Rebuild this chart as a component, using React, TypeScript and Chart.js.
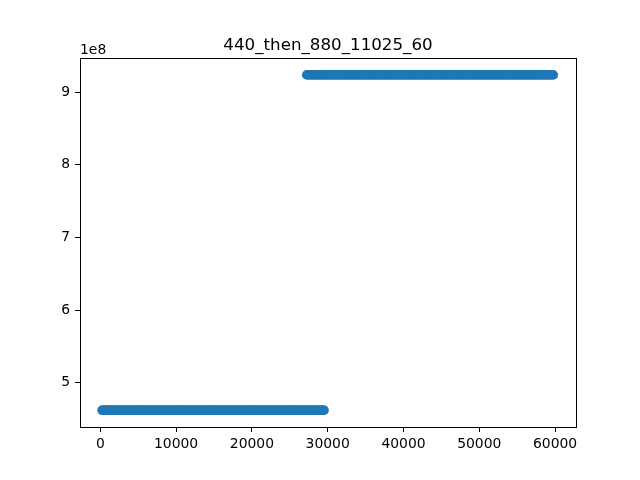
import { useEffect, useRef } from "react";
import { Chart, registerables } from "chart.js";

Chart.register(...registerables);

const TITLE = "440_then_880_11025_60";
const OFFSET_LABEL = "1e8";

// first tone, x positions read along the lower band
const LOW_X = [
  250, 500, 750, 1000, 1250, 1500, 1750, 2000, 2250, 2500,
  2750, 3000, 3250, 3500, 3750, 4000, 4250, 4500, 4750, 5000,
  5250, 5500, 5750, 6000, 6250, 6500, 6750, 7000, 7250, 7500,
  7750, 8000, 8250, 8500, 8750, 9000, 9250, 9500, 9750, 10000,
  10250, 10500, 10750, 11000, 11250, 11500, 11750, 12000, 12250, 12500,
  12750, 13000, 13250, 13500, 13750, 14000, 14250, 14500, 14750, 15000,
  15250, 15500, 15750, 16000, 16250, 16500, 16750, 17000, 17250, 17500,
  17750, 18000, 18250, 18500, 18750, 19000, 19250, 19500, 19750, 20000,
  20250, 20500, 20750, 21000, 21250, 21500, 21750, 22000, 22250, 22500,
  22750, 23000, 23250, 23500, 23750, 24000, 24250, 24500, 24750, 25000,
  25250, 25500, 25750, 26000, 26250, 26500, 26750, 27000, 27250, 27500,
  27750, 28000, 28250, 28500, 28750, 29000, 29250, 29500,
];
const LOW_Y = 4.62e8;

// second tone, x positions read along the upper band
const HIGH_X = [
  27250, 27500, 27750, 28000, 28250, 28500, 28750, 29000, 29250, 29500,
  29750, 30000, 30250, 30500, 30750, 31000, 31250, 31500, 31750, 32000,
  32250, 32500, 32750, 33000, 33250, 33500, 33750, 34000, 34250, 34500,
  34750, 35000, 35250, 35500, 35750, 36000, 36250, 36500, 36750, 37000,
  37250, 37500, 37750, 38000, 38250, 38500, 38750, 39000, 39250, 39500,
  39750, 40000, 40250, 40500, 40750, 41000, 41250, 41500, 41750, 42000,
  42250, 42500, 42750, 43000, 43250, 43500, 43750, 44000, 44250, 44500,
  44750, 45000, 45250, 45500, 45750, 46000, 46250, 46500, 46750, 47000,
  47250, 47500, 47750, 48000, 48250, 48500, 48750, 49000, 49250, 49500,
  49750, 50000, 50250, 50500, 50750, 51000, 51250, 51500, 51750, 52000,
  52250, 52500, 52750, 53000, 53250, 53500, 53750, 54000, 54250, 54500,
  54750, 55000, 55250, 55500, 55750, 56000, 56250, 56500, 56750, 57000,
  57250, 57500, 57750, 58000, 58250, 58500, 58750, 59000, 59250, 59500,
  59750,
];
const HIGH_Y = 9.24e8;

const X_TICKS = [0, 10000, 20000, 30000, 40000, 50000, 60000];
const Y_TICKS = [5e8, 6e8, 7e8, 8e8, 9e8];

const FONT = "'DejaVu Sans', sans-serif";
const BLUE = "#1f77b4";

const framePlugin = {
  id: "frame",
  afterDraw(chart: any) {
    const { ctx, chartArea: a } = chart;
    ctx.save();
    ctx.strokeStyle = "#000";
    ctx.lineWidth = 1;
    ctx.strokeRect(a.left + 0.5, a.top + 0.5, a.right - a.left, a.bottom - a.top);
    ctx.fillStyle = "#000";
    ctx.font = `16.7px ${FONT}`;
    ctx.textAlign = "center";
    ctx.textBaseline = "alphabetic";
    ctx.fillText(TITLE, (a.left + a.right) / 2, 49.5);
    ctx.font = `13.9px ${FONT}`;
    ctx.textAlign = "left";
    ctx.fillText(OFFSET_LABEL, a.left, 53.5);
    ctx.restore();
  },
};

export default function App() {
  const canvasRef = useRef<HTMLCanvasElement>(null);
  const chartRef = useRef<Chart | null>(null);

  useEffect(() => {
    if (!canvasRef.current) return;
    chartRef.current?.destroy();

    chartRef.current = new Chart(canvasRef.current, {
      type: "scatter",
      data: {
        datasets: [
          {
            data: LOW_X.map(x => ({ x, y: LOW_Y })),
            backgroundColor: BLUE,
            borderColor: BLUE,
            borderWidth: 0,
            pointRadius: 4.9,
          },
          {
            data: HIGH_X.map(x => ({ x, y: HIGH_Y })),
            backgroundColor: BLUE,
            borderColor: BLUE,
            borderWidth: 0,
            pointRadius: 4.9,
          },
        ],
      },
      options: {
        responsive: false,
        animation: false,
        layout: { padding: { left: 0, right: 64, top: 58, bottom: 0 } },
        plugins: { legend: { display: false }, tooltip: { enabled: false } },
        scales: {
          x: {
            type: "linear",
            min: -2680,
            max: 62760,
            afterBuildTicks: (s: any) => { s.ticks = X_TICKS.map(value => ({ value })); },
            afterFit: (s: any) => { s.height = 53; },
            grid: { drawOnChartArea: false, color: "#000", tickLength: 5 },
            border: { color: "#000", width: 1 },
            ticks: {
              color: "#000",
              padding: 4,
              maxRotation: 0,
              font: { family: FONT, size: 13.9 },
              callback: v => String(v),
            },
          },
          y: {
            type: "linear",
            min: 4.388e8,
            max: 9.473e8,
            afterBuildTicks: (s: any) => { s.ticks = Y_TICKS.map(value => ({ value })); },
            afterFit: (s: any) => { s.width = 80; },
            grid: { drawOnChartArea: false, color: "#000", tickLength: 5 },
            border: { color: "#000", width: 1 },
            ticks: {
              color: "#000",
              padding: 5,
              font: { family: FONT, size: 13.9 },
              callback: v => String(Number(v) / 1e8),
            },
          },
        },
      },
      plugins: [framePlugin],
    });

    return () => { chartRef.current?.destroy(); };
  }, []);

  return (
    <div style={{ position: "fixed", left: 0, top: 0, width: 640, height: 480, background: "#fff" }}>
      <canvas ref={canvasRef} width={640} height={480} />
    </div>
  );
}
